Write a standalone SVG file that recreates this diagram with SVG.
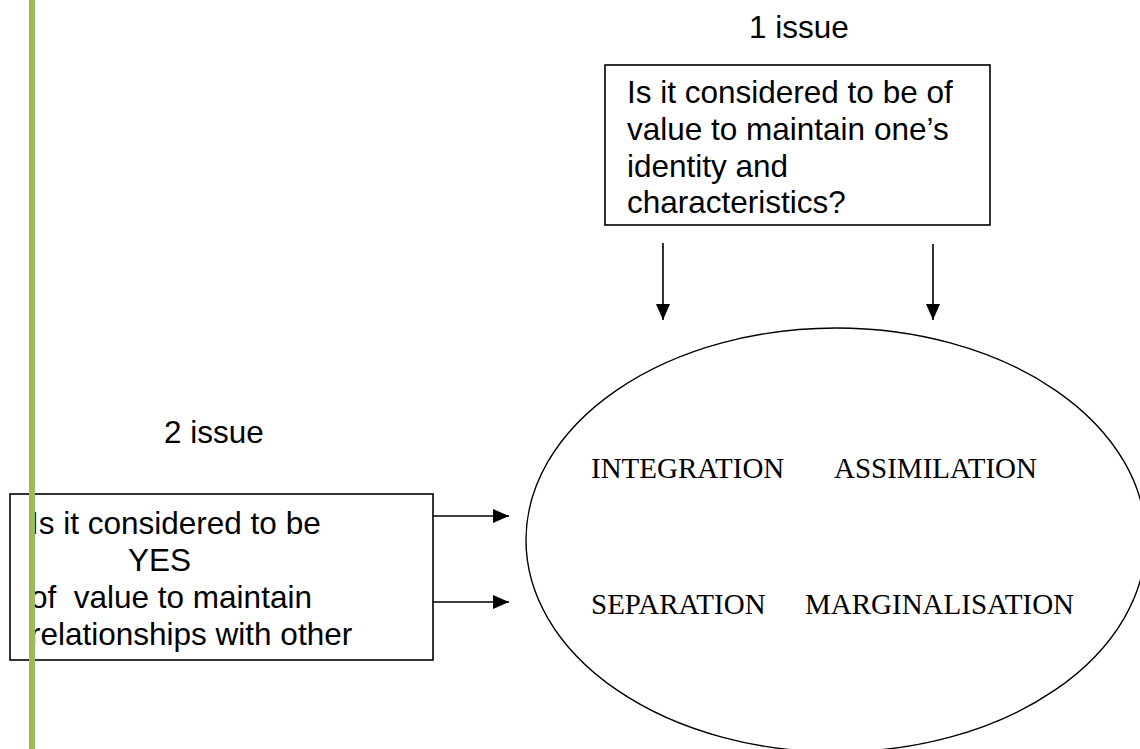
<svg xmlns="http://www.w3.org/2000/svg" width="1140" height="749" viewBox="0 0 1140 749">
  <style>
    .sans { font-family: "Liberation Sans", Arial, sans-serif; font-size: 31.5px; fill: #000; white-space: pre; }
    .serif { font-family: "Liberation Serif", "Times New Roman", serif; font-size: 29px; fill: #000; }
    .box { fill: #fff; stroke: #000; stroke-width: 1.6; }
    .conn { stroke: #000; stroke-width: 1.6; fill: none; }
  </style>
  <defs>
    <marker id="arrow" viewBox="0 0 16 16" refX="16" refY="8" markerWidth="16" markerHeight="16" markerUnits="userSpaceOnUse" orient="auto">
      <path d="M0,1 L16,8 L0,15 Z" fill="#000"/>
    </marker>
  </defs>
  <rect width="1140" height="749" fill="#fff"/>

  <g id="label-issue1">
    <text class="sans" x="749" y="38">1 issue</text>
  </g>

  <g id="issue1-box">
    <rect class="box" x="605" y="65" width="385" height="160"/>
    <text class="sans" x="627" y="103">Is it considered to be of</text>
    <text class="sans" x="627" y="140">value to maintain one’s</text>
    <text class="sans" x="627" y="177">identity and</text>
    <text class="sans" x="627" y="213">characteristics?</text>
  </g>

  <g id="label-issue2">
    <text class="sans" x="164" y="443">2 issue</text>
  </g>

  <g id="issue2-box">
    <rect class="box" x="10" y="494" width="423" height="166"/>
    <text class="sans" x="30" y="534">Is it considered to be</text>
    <text class="sans" x="128" y="571">YES</text>
    <text class="sans" x="30" y="608">of  value to maintain</text>
    <text class="sans" x="30" y="645">relationships with other</text>
  </g>

  <g id="strategies">
    <ellipse cx="836" cy="540" rx="310" ry="212" fill="none" stroke="#000" stroke-width="1.4"/>
    <text class="serif" x="591" y="478">INTEGRATION</text>
    <text class="serif" x="834" y="478">ASSIMILATION</text>
    <text class="serif" x="591" y="614">SEPARATION</text>
    <text class="serif" x="805" y="614">MARGINALISATION</text>
  </g>

  <g id="connectors">
    <line class="conn" x1="663" y1="243" x2="663" y2="320" marker-end="url(#arrow)"/>
    <line class="conn" x1="933" y1="244" x2="933" y2="320" marker-end="url(#arrow)"/>
    <line class="conn" x1="433" y1="516" x2="509" y2="516" marker-end="url(#arrow)"/>
    <line class="conn" x1="433" y1="602" x2="509" y2="602" marker-end="url(#arrow)"/>
  </g>

  <rect id="margin-bar" x="29" y="0" width="6" height="749" fill="#9BBB59"/>
</svg>
